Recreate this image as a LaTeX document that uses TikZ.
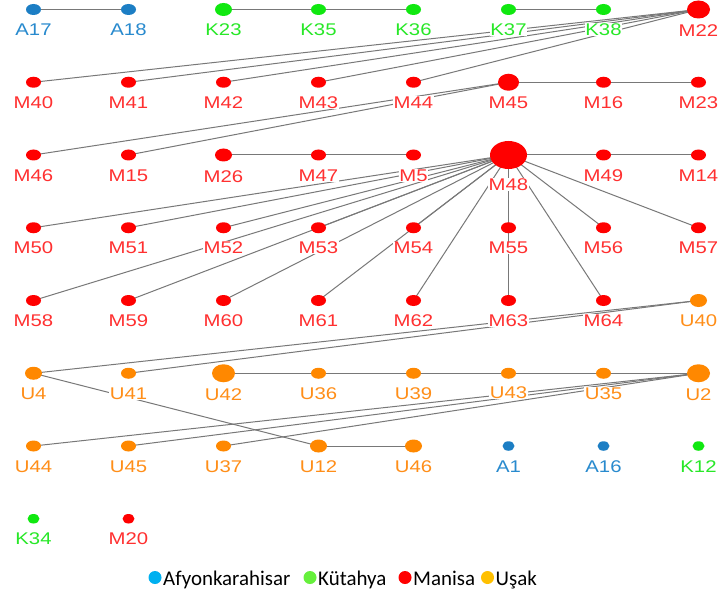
\documentclass[tikz,border=0pt]{standalone}
\usepackage{fontspec}
\usetikzlibrary{shapes.geometric}
\newfontfamily\labfont[FakeStretch=1.2]{Liberation Sans}
\newfontfamily\legfont{Carlito}

\pgfdeclarelayer{background}
\pgfsetlayers{background,main}

% group colours: dots, labels, legend
\definecolor{afyC}{RGB}{28,126,196}
\definecolor{kutC}{RGB}{16,232,16}
\definecolor{manC}{RGB}{255,0,0}
\definecolor{uskC}{RGB}{255,136,0}
\definecolor{afyT}{RGB}{40,138,206}
\definecolor{kutT}{RGB}{40,232,40}
\definecolor{manT}{RGB}{255,48,48}
\definecolor{uskT}{RGB}{255,142,24}
\definecolor{legA}{RGB}{0,176,240}
\definecolor{legK}{RGB}{102,240,60}
\definecolor{legM}{RGB}{255,0,0}
\definecolor{legU}{RGB}{255,192,0}
\definecolor{edgeC}{RGB}{120,120,120}

% one vertex: name, column, row, group, size style, label drop
\newcommand{\gnode}[6]{%
  \node[dot,#4,#5] (#1) at ({33.5+95*#2},{9.5+72.75*#3}) {};
  \node[lab,#4T,anchor=base] (#1-t) at ([yshift=-#6bp]#1.center) {#1};
}

\begin{document}
\begin{tikzpicture}[x=1bp,y=-1bp,
  dot/.style={ellipse,inner sep=0pt,draw=none,minimum width=15bp,minimum height=11bp},
  szs/.style={minimum width=12bp,minimum height=9.5bp},
  szm/.style={minimum width=17bp,minimum height=13bp},
  szl/.style={minimum width=21bp,minimum height=17bp},
  szx/.style={minimum width=23bp,minimum height=18bp},
  szh/.style={minimum width=37bp,minimum height=28bp},
  afy/.style={fill=afyC}, kut/.style={fill=kutC},
  man/.style={fill=manC}, usk/.style={fill=uskC},
  afyT/.style={text=afyT}, kutT/.style={text=kutT},
  manT/.style={text=manT}, uskT/.style={text=uskT},
  lab/.style={inner xsep=0.8bp,inner ysep=0.5bp,fill=white,
    font=\labfont\fontsize{17}{17}\selectfont},
  edge/.style={draw=edgeC,line width=1bp},
  legdot/.style={circle,inner sep=0pt,minimum size=13bp},
  legtext/.style={inner sep=0pt,anchor=base west,font=\legfont\fontsize{21}{21}\selectfont}]
\useasboundingbox (0,0) rectangle (719,593);

% row 0
\gnode{A17}{0}{0}{afy}{}{26}
\gnode{A18}{1}{0}{afy}{}{26}
\gnode{K23}{2}{0}{kut}{szm}{26}
\gnode{K35}{3}{0}{kut}{}{26}
\gnode{K36}{4}{0}{kut}{}{26}
\gnode{K37}{5}{0}{kut}{}{26}
\gnode{K38}{6}{0}{kut}{}{26}
\gnode{M22}{7}{0}{man}{szx}{27}
% row 1
\gnode{M40}{0}{1}{man}{}{26}
\gnode{M41}{1}{1}{man}{}{26}
\gnode{M42}{2}{1}{man}{}{26}
\gnode{M43}{3}{1}{man}{}{26}
\gnode{M44}{4}{1}{man}{}{26}
\gnode{M45}{5}{1}{man}{szl}{26}
\gnode{M16}{6}{1}{man}{}{26}
\gnode{M23}{7}{1}{man}{}{26}
% row 2
\gnode{M46}{0}{2}{man}{}{26}
\gnode{M15}{1}{2}{man}{}{26}
\gnode{M26}{2}{2}{man}{szm}{27}
\gnode{M47}{3}{2}{man}{}{26}
\gnode{M5}{4}{2}{man}{}{26}
\gnode{M48}{5}{2}{man}{szh}{35}
\gnode{M49}{6}{2}{man}{}{26}
\gnode{M14}{7}{2}{man}{}{26}
% row 3
\gnode{M50}{0}{3}{man}{}{26}
\gnode{M51}{1}{3}{man}{}{26}
\gnode{M52}{2}{3}{man}{}{26}
\gnode{M53}{3}{3}{man}{}{26}
\gnode{M54}{4}{3}{man}{}{26}
\gnode{M55}{5}{3}{man}{}{26}
\gnode{M56}{6}{3}{man}{}{26}
\gnode{M57}{7}{3}{man}{}{26}
% row 4
\gnode{M58}{0}{4}{man}{}{26}
\gnode{M59}{1}{4}{man}{}{26}
\gnode{M60}{2}{4}{man}{}{26}
\gnode{M61}{3}{4}{man}{}{26}
\gnode{M62}{4}{4}{man}{}{26}
\gnode{M63}{5}{4}{man}{}{26}
\gnode{M64}{6}{4}{man}{}{26}
\gnode{U40}{7}{4}{usk}{szm}{26}
% row 5
\gnode{U4}{0}{5}{usk}{szm}{26}
\gnode{U41}{1}{5}{usk}{}{26}
\gnode{U42}{2}{5}{usk}{szx}{27}
\gnode{U36}{3}{5}{usk}{}{26}
\gnode{U39}{4}{5}{usk}{}{26}
\gnode{U43}{5}{5}{usk}{}{25}
\gnode{U35}{6}{5}{usk}{}{26}
\gnode{U2}{7}{5}{usk}{szx}{27}
% row 6
\gnode{U44}{0}{6}{usk}{}{26}
\gnode{U45}{1}{6}{usk}{}{26}
\gnode{U37}{2}{6}{usk}{}{26}
\gnode{U12}{3}{6}{usk}{szm}{26}
\gnode{U46}{4}{6}{usk}{szm}{26}
\gnode{A1}{5}{6}{afy}{szs}{26}
\gnode{A16}{6}{6}{afy}{szs}{26}
\gnode{K12}{7}{6}{kut}{szs}{26}
% row 7
\gnode{K34}{0}{7}{kut}{szs}{26}
\gnode{M20}{1}{7}{man}{szs}{26}

% connections, kept beneath dots and labels
\begin{pgfonlayer}{background}
\fill[white] (0,0) rectangle (719,593);
\foreach \a/\b in {A17/A18,K23/K35,K35/K36,K37/K38,
  M22/M40,M22/M41,M22/M42,M22/M43,M22/M44,
  M45/M46,M45/M15,M45/M16,M16/M23,
  M26/M47,M47/M5,M48/M49,M49/M14,
  M48/M50,M48/M51,M48/M52,M48/M53,M48/M54,M48/M55,M48/M56,M48/M57,
  M48/M58,M48/M59,M48/M60,M48/M61,M48/M62,M48/M64,M55/M63,
  U40/U4,U40/U41,U4/U12,U12/U46,
  U42/U36,U36/U39,U39/U43,U43/U35,U35/U2,
  U2/U44,U2/U45,U2/U37}
  \draw[edge] (\a.center) -- (\b.center);
\end{pgfonlayer}

% legend
\node[legdot,fill=legA] (legA) at (155,577.5) {};
\node[legtext] (legA-t) at (163,585) {Afyonkarahisar};
\node[legdot,fill=legK] (legK) at (310,577.5) {};
\node[legtext] (legK-t) at (318,585) {Kütahya};
\node[legdot,fill=legM] (legM) at (405,577.5) {};
\node[legtext] (legM-t) at (413,585) {Manisa};
\node[legdot,fill=legU] (legU) at (487.5,577.5) {};
\node[legtext] (legU-t) at (495.5,585) {Uşak};
\end{tikzpicture}
\end{document}
